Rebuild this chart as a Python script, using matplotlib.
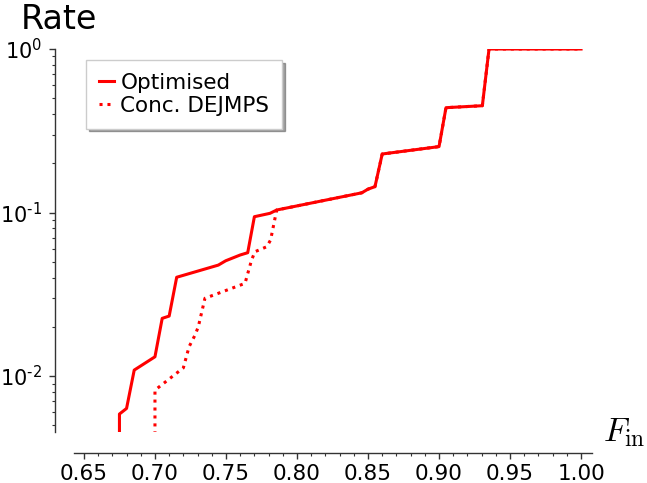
import io
import matplotlib
matplotlib.use('Agg')
import matplotlib.pyplot as plt
from matplotlib import mathtext
from matplotlib.ticker import MultipleLocator, LogLocator, NullFormatter, FuncFormatter
import numpy as np

plt.rcParams['axes.unicode_minus'] = False

# optimised protocol
f_opt = [0.675, 0.675, 0.680, 0.6854, 0.700, 0.7051, 0.710, 0.7153, 0.7446, 0.7498,
         0.760, 0.7653, 0.770, 0.781, 0.7857, 0.8456, 0.850, 0.8549, 0.860, 0.900,
         0.9049, 0.9305, 0.9352, 1.000]
r_opt = [0.0044, 0.00586, 0.00634, 0.01088, 0.01312, 0.02254, 0.02328, 0.0402, 0.0477, 0.0507,
         0.0550, 0.0568, 0.0943, 0.0989, 0.1036, 0.132, 0.139, 0.144, 0.228, 0.253,
         0.4377, 0.450, 1.0, 1.0]

# concatenated DEJMPS
f_dej = [0.700, 0.700, 0.720, 0.724, 0.7282, 0.7305, 0.7352, 0.7634, 0.768, 0.7704,
         0.7787, 0.7814, 0.7857, 0.8456, 0.850, 0.8549, 0.860, 0.900, 0.9049, 0.9305,
         0.9352, 1.000]
r_dej = [0.0044, 0.0082, 0.01123, 0.0151, 0.0178, 0.0200, 0.0299, 0.0369, 0.0512, 0.0576,
         0.0618, 0.0679, 0.1036, 0.132, 0.139, 0.144, 0.228, 0.253, 0.4377, 0.450,
         1.0, 1.0]

# short hyphen in the exponent, like the original
try:
    mathtext.math_to_image(r'$10^{\text{-}1}$', io.BytesIO(), format='png')
    neg = r'\text{-}'
except Exception:
    neg = '-'


def pow10(v, pos):
    e = int(round(np.log10(v)))
    if e < 0:
        return r'$10^{%s%d}$' % (neg, -e)
    return r'$10^{%d}$' % e


fig = plt.figure(figsize=(6.47, 4.83), dpi=100)
ax = fig.add_axes([74/647, 1-432/483, 518/647, 383/483])

ax.plot(f_opt, r_opt, color='red', lw=2.2, label='Optimised')
ax.plot(f_dej, r_dej, color='red', lw=2.2, linestyle=(0, (1, 1.6)), label='Conc. DEJMPS')

ax.set_yscale('log')
ax.set_xlim(0.643, 1.0077)
ax.set_ylim(0.00455, 1.0)

ax.xaxis.set_major_locator(MultipleLocator(0.05))
ax.xaxis.set_minor_locator(MultipleLocator(0.01))
ax.xaxis.set_major_formatter(matplotlib.ticker.FormatStrFormatter('%.2f'))
ax.yaxis.set_major_locator(LogLocator(base=10))
ax.yaxis.set_major_formatter(FuncFormatter(pow10))
ax.yaxis.set_minor_locator(LogLocator(base=10, subs=range(2, 10)))
ax.yaxis.set_minor_formatter(NullFormatter())

for s in ['top', 'right']:
    ax.spines[s].set_visible(False)
ax.spines['left'].set_position(('outward', 14))
ax.spines['bottom'].set_position(('outward', 15))
for s in ['left', 'bottom']:
    ax.spines[s].set_color('#333333')
    ax.spines[s].set_linewidth(1.0)

ax.tick_params(which='major', length=4, width=1, color='#333333')
ax.tick_params(which='minor', length=2.5, width=0.8, color='#333333')
ax.tick_params(axis='x', pad=4, labelsize=15.5)
ax.tick_params(axis='y', pad=5, labelsize=15)

leg = ax.legend(loc='upper left', bbox_to_anchor=(0.023, 0.971), borderaxespad=0,
                fontsize=15.5, handlelength=0.7, handletextpad=0.3, fancybox=False,
                shadow=True, framealpha=1, borderpad=0.6, labelspacing=0.12)
leg.get_frame().set_edgecolor('#cccccc')

fig.text(21/647, 1-29/483, 'Rate', fontsize=24, ha='left', va='baseline')
fig.text(603/647, 1-433/483, r'$F_{\rm in}$', fontsize=24, ha='left', va='center',
         math_fontfamily='cm')

fig.savefig('out.png', dpi=100)
